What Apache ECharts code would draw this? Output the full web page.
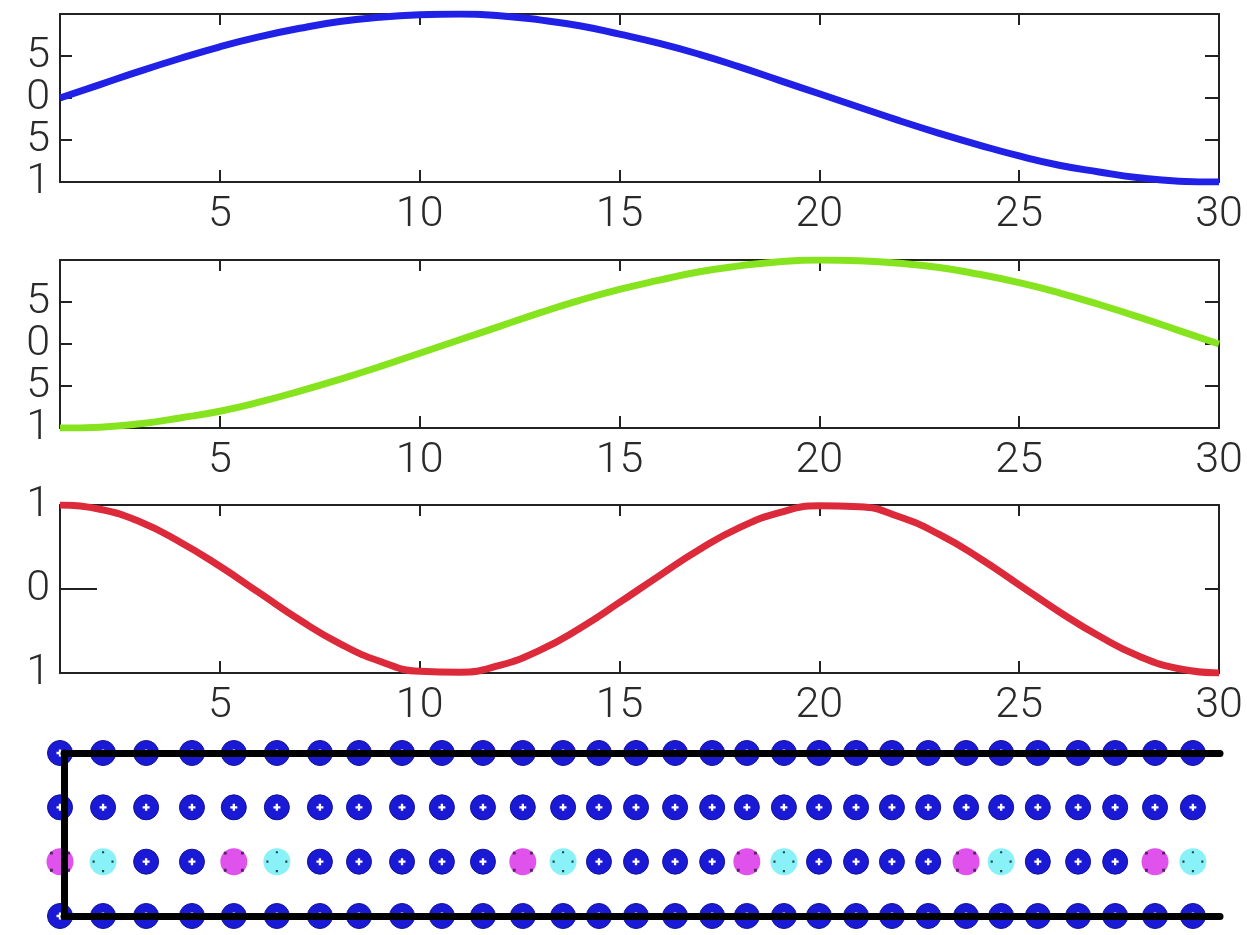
<!DOCTYPE html>
<html>
<head>
<meta charset="utf-8">
<style>
  html, body { margin: 0; padding: 0; background: #ffffff; }
  #chart { width: 1247px; height: 935px; }
</style>
<script src="https://cdn.jsdelivr.net/npm/echarts@6/dist/echarts.min.js"></script>
</head>
<body>
<div id="chart"></div>
<script>
// Sample positions shared by the three line panels
const xValues = [1, 2, 3, 4, 5, 6, 7, 8, 9, 10, 11, 12, 13, 14, 15,
                 16, 17, 18, 19, 20, 21, 22, 23, 24, 25, 26, 27, 28, 29, 30];

// Panel 1 (blue)
const blueValues = [0.00, 0.16, 0.32, 0.47, 0.61, 0.73, 0.83, 0.91, 0.96, 0.99,
                    1.00, 0.98, 0.93, 0.86, 0.76, 0.65, 0.52, 0.37, 0.21, 0.05,
                    -0.11, -0.27, -0.42, -0.56, -0.69, -0.80, -0.88, -0.95, -0.99, -1.00];

// Panel 2 (green)
const greenValues = [-1.00, -0.99, -0.95, -0.88, -0.80, -0.69, -0.56, -0.42, -0.27, -0.11,
                     0.05, 0.21, 0.37, 0.52, 0.65, 0.76, 0.86, 0.93, 0.98, 1.00,
                     0.99, 0.96, 0.91, 0.83, 0.73, 0.61, 0.47, 0.32, 0.16, 0.00];

// Panel 3 (red)
const redValues = [1.00, 0.95, 0.80, 0.56, 0.27, -0.05, -0.37, -0.65, -0.86, -0.98,
                   -0.99, -0.91, -0.73, -0.47, -0.16, 0.16, 0.47, 0.73, 0.91, 0.99,
                   0.98, 0.86, 0.65, 0.37, 0.05, -0.27, -0.56, -0.80, -0.95, -1.00];

// Tick marks and their printed labels
const xTickValues = [5, 10, 15, 20, 25, 30];
const xTickLabels = ['5', '10', '15', '20', '25', '30'];
const yTickValuesHalf = [-1, -0.5, 0, 0.5];
const yTickLabelsHalf = ['1', '5', '0', '5'];
const yTickValuesUnit = [-1, 0, 1];
const yTickLabelsUnit = ['1', '0', '1'];

// Marker grid: column positions, row levels and the highlighted columns in the third row
const dotX = [0.90, 1.98, 3.06, 4.21, 5.26, 6.34, 7.42, 8.40, 9.48, 10.48,
              11.51, 12.51, 13.52, 14.42, 15.35, 16.33, 17.26, 18.13, 19.06, 19.94,
              20.87, 21.77, 22.68, 23.63, 24.51, 25.43, 26.44, 27.37, 28.37, 29.32];
const dotRows = [4, 3, 2, 1];
const mixedRow = 2;
const magentaCols = [1, 5, 12, 18, 24, 29];
const cyanCols = [2, 6, 13, 19, 25, 30];

const FONT = 'Roboto';
const FONT_WEIGHT = 300;
const INK = '#222222';
const LABEL_COLOR = '#2a2a2a';

function pairs(xs, ys) { return xs.map((x, i) => [x, ys[i]]); }
function labelLookup(values, labels) {
  return function (v) {
    const i = values.findIndex(t => Math.abs(t - v) < 1e-9);
    return i >= 0 ? labels[i] : '';
  };
}
function labelStyle(extra) {
  return Object.assign({
    show: true, interval: 0, fontFamily: FONT, fontWeight: FONT_WEIGHT, fontSize: 43,
    color: LABEL_COLOR, hideOverlap: false, showMinLabel: true, showMaxLabel: true
  }, extra);
}
// Split a label list into two interleaved halves so neighbouring labels
// live on separate axes and never compete for space.
function everyOther(arr, start) { return arr.filter((_, i) => i % 2 === start); }

const panelTops = [14, 260, 505];
const grids = [];
const xAxes = [];
const yAxes = [];
const series = [];

const panelData = [blueValues, greenValues, redValues];
const panelColors = ['#2020e6', '#86e41e', '#dc2a3a'];

panelTops.forEach((top, p) => {
  grids.push({ left: 60, right: 28, top: top, height: 168 });
  const frame = { show: true, onZero: false, lineStyle: { color: INK, width: 2 } };
  // bottom x axis with labels
  xAxes.push({
    type: 'value', gridIndex: p, position: 'bottom', min: 1, max: 30,
    axisLine: frame,
    axisTick: { show: true, inside: true, length: 12, customValues: xTickValues,
                lineStyle: { color: INK, width: 2 } },
    axisLabel: labelStyle({ customValues: xTickValues, margin: 12,
                            formatter: labelLookup(xTickValues, xTickLabels) }),
    splitLine: { show: false }
  });
  // top x axis: frame and ticks only
  xAxes.push({
    type: 'value', gridIndex: p, position: 'top', min: 1, max: 30,
    axisLine: frame,
    axisTick: { show: true, inside: true, length: 11, customValues: xTickValues,
                lineStyle: { color: INK, width: 2 } },
    axisLabel: { show: false },
    splitLine: { show: false }
  });
  const half = p < 2;
  const tickVals = half ? [-0.5, 0, 0.5] : [0];
  const vals = half ? yTickValuesHalf : yTickValuesUnit;
  const labs = half ? yTickLabelsHalf : yTickLabelsUnit;
  const fmt = labelLookup(vals, labs);
  // left y axis: frame, ticks and every other label
  yAxes.push({
    type: 'value', gridIndex: p, position: 'left', min: -1, max: 1,
    axisLine: frame,
    axisTick: { show: true, inside: true, length: half ? 12 : 37, customValues: tickVals,
                lineStyle: { color: INK, width: 2 } },
    axisLabel: labelStyle({ margin: 10, customValues: everyOther(vals, 0), formatter: fmt }),
    splitLine: { show: false }
  });
  // right y axis: frame and ticks only
  yAxes.push({
    type: 'value', gridIndex: p, position: 'right', min: -1, max: 1,
    axisLine: frame,
    axisTick: { show: true, inside: true, length: 14, customValues: tickVals,
                lineStyle: { color: INK, width: 2 } },
    axisLabel: { show: false },
    splitLine: { show: false }
  });
  // second left y axis carrying the remaining labels
  yAxes.push({
    type: 'value', gridIndex: p, position: 'left', offset: 0, min: -1, max: 1,
    axisLine: { show: false }, axisTick: { show: false },
    axisLabel: labelStyle({ margin: 10, customValues: everyOther(vals, 1), formatter: fmt }),
    splitLine: { show: false }
  });
  series.push({
    type: 'line', xAxisIndex: 2 * p, yAxisIndex: 3 * p,
    data: pairs(xValues, panelData[p]),
    showSymbol: false, smooth: 0.5, clip: true,
    lineStyle: { color: panelColors[p], width: 7 },
    animation: false
  });
});

// Marker grid panel
const g = panelTops.length;
grids.push({ left: 64, right: 27, top: 753, bottom: 19 });
const thick = { show: true, onZero: false, lineStyle: { color: '#000000', width: 7 } };
xAxes.push({ type: 'value', gridIndex: g, position: 'bottom', min: 1, max: 30, z: 10,
             axisLine: thick, axisTick: { show: false }, axisLabel: { show: false },
             splitLine: { show: false } });
xAxes.push({ type: 'value', gridIndex: g, position: 'top', min: 1, max: 30, z: 10,
             axisLine: thick, axisTick: { show: false }, axisLabel: { show: false },
             splitLine: { show: false } });
yAxes.push({ type: 'value', gridIndex: g, position: 'left', min: 1, max: 4, z: 10,
             axisLine: thick, axisTick: { show: false }, axisLabel: { show: false },
             splitLine: { show: false } });

const bluePts = [];
const magentaPts = [];
const cyanPts = [];
dotRows.forEach(r => {
  dotX.forEach((x, i) => {
    const col = i + 1;
    if (r === mixedRow && magentaCols.includes(col)) magentaPts.push([x, r]);
    else if (r === mixedRow && cyanCols.includes(col)) cyanPts.push([x, r]);
    else bluePts.push([x, r]);
  });
});

const PLUS = 'path://M2,0H4V2H6V4H4V6H2V4H0V2H2Z';
const CROSS_DOTS = 'path://M9,0H11V2H9Z M18,9H20V11H18Z M9,18H11V20H9Z M0,9H2V11H0Z';
const DIAG_DOTS = 'path://M3,3H5V5H3Z M15,3H17V5H15Z M3,15H5V17H3Z M15,15H17V17H15Z';

const gx = 2 * g, gy = 3 * g;
const solid = { opacity: 1 };
series.push(
  { type: 'scatter', xAxisIndex: gx, yAxisIndex: gy, data: bluePts, clip: false,
    symbol: 'circle', symbolSize: 25, z: 2, animation: false,
    itemStyle: Object.assign({ color: '#1a1ad6', borderColor: '#121290', borderWidth: 1 }, solid) },
  { type: 'scatter', xAxisIndex: gx, yAxisIndex: gy, data: bluePts, clip: false,
    symbol: PLUS, symbolSize: 7, z: 3, animation: false,
    itemStyle: Object.assign({ color: '#ffffff' }, solid) },
  { type: 'scatter', xAxisIndex: gx, yAxisIndex: gy, data: magentaPts, clip: false,
    symbol: 'circle', symbolSize: 27, z: 2, animation: false,
    itemStyle: Object.assign({ color: '#e052ec' }, solid) },
  { type: 'scatter', xAxisIndex: gx, yAxisIndex: gy, data: magentaPts, clip: false,
    symbol: DIAG_DOTS, symbolSize: 20, z: 3, animation: false,
    itemStyle: Object.assign({ color: '#552266' }, solid) },
  { type: 'scatter', xAxisIndex: gx, yAxisIndex: gy, data: cyanPts, clip: false,
    symbol: 'circle', symbolSize: 27, z: 2, animation: false,
    itemStyle: Object.assign({ color: '#88f2f8' }, solid) },
  { type: 'scatter', xAxisIndex: gx, yAxisIndex: gy, data: cyanPts, clip: false,
    symbol: CROSS_DOTS, symbolSize: 21, z: 3, animation: false,
    itemStyle: Object.assign({ color: '#224444' }, solid) }
);

const chart = echarts.init(document.getElementById('chart'), null, { renderer: 'canvas' });
chart.setOption({
  backgroundColor: '#ffffff',
  animation: false,
  grid: grids,
  xAxis: xAxes,
  yAxis: yAxes,
  series: series
});
</script>
</body>
</html>
